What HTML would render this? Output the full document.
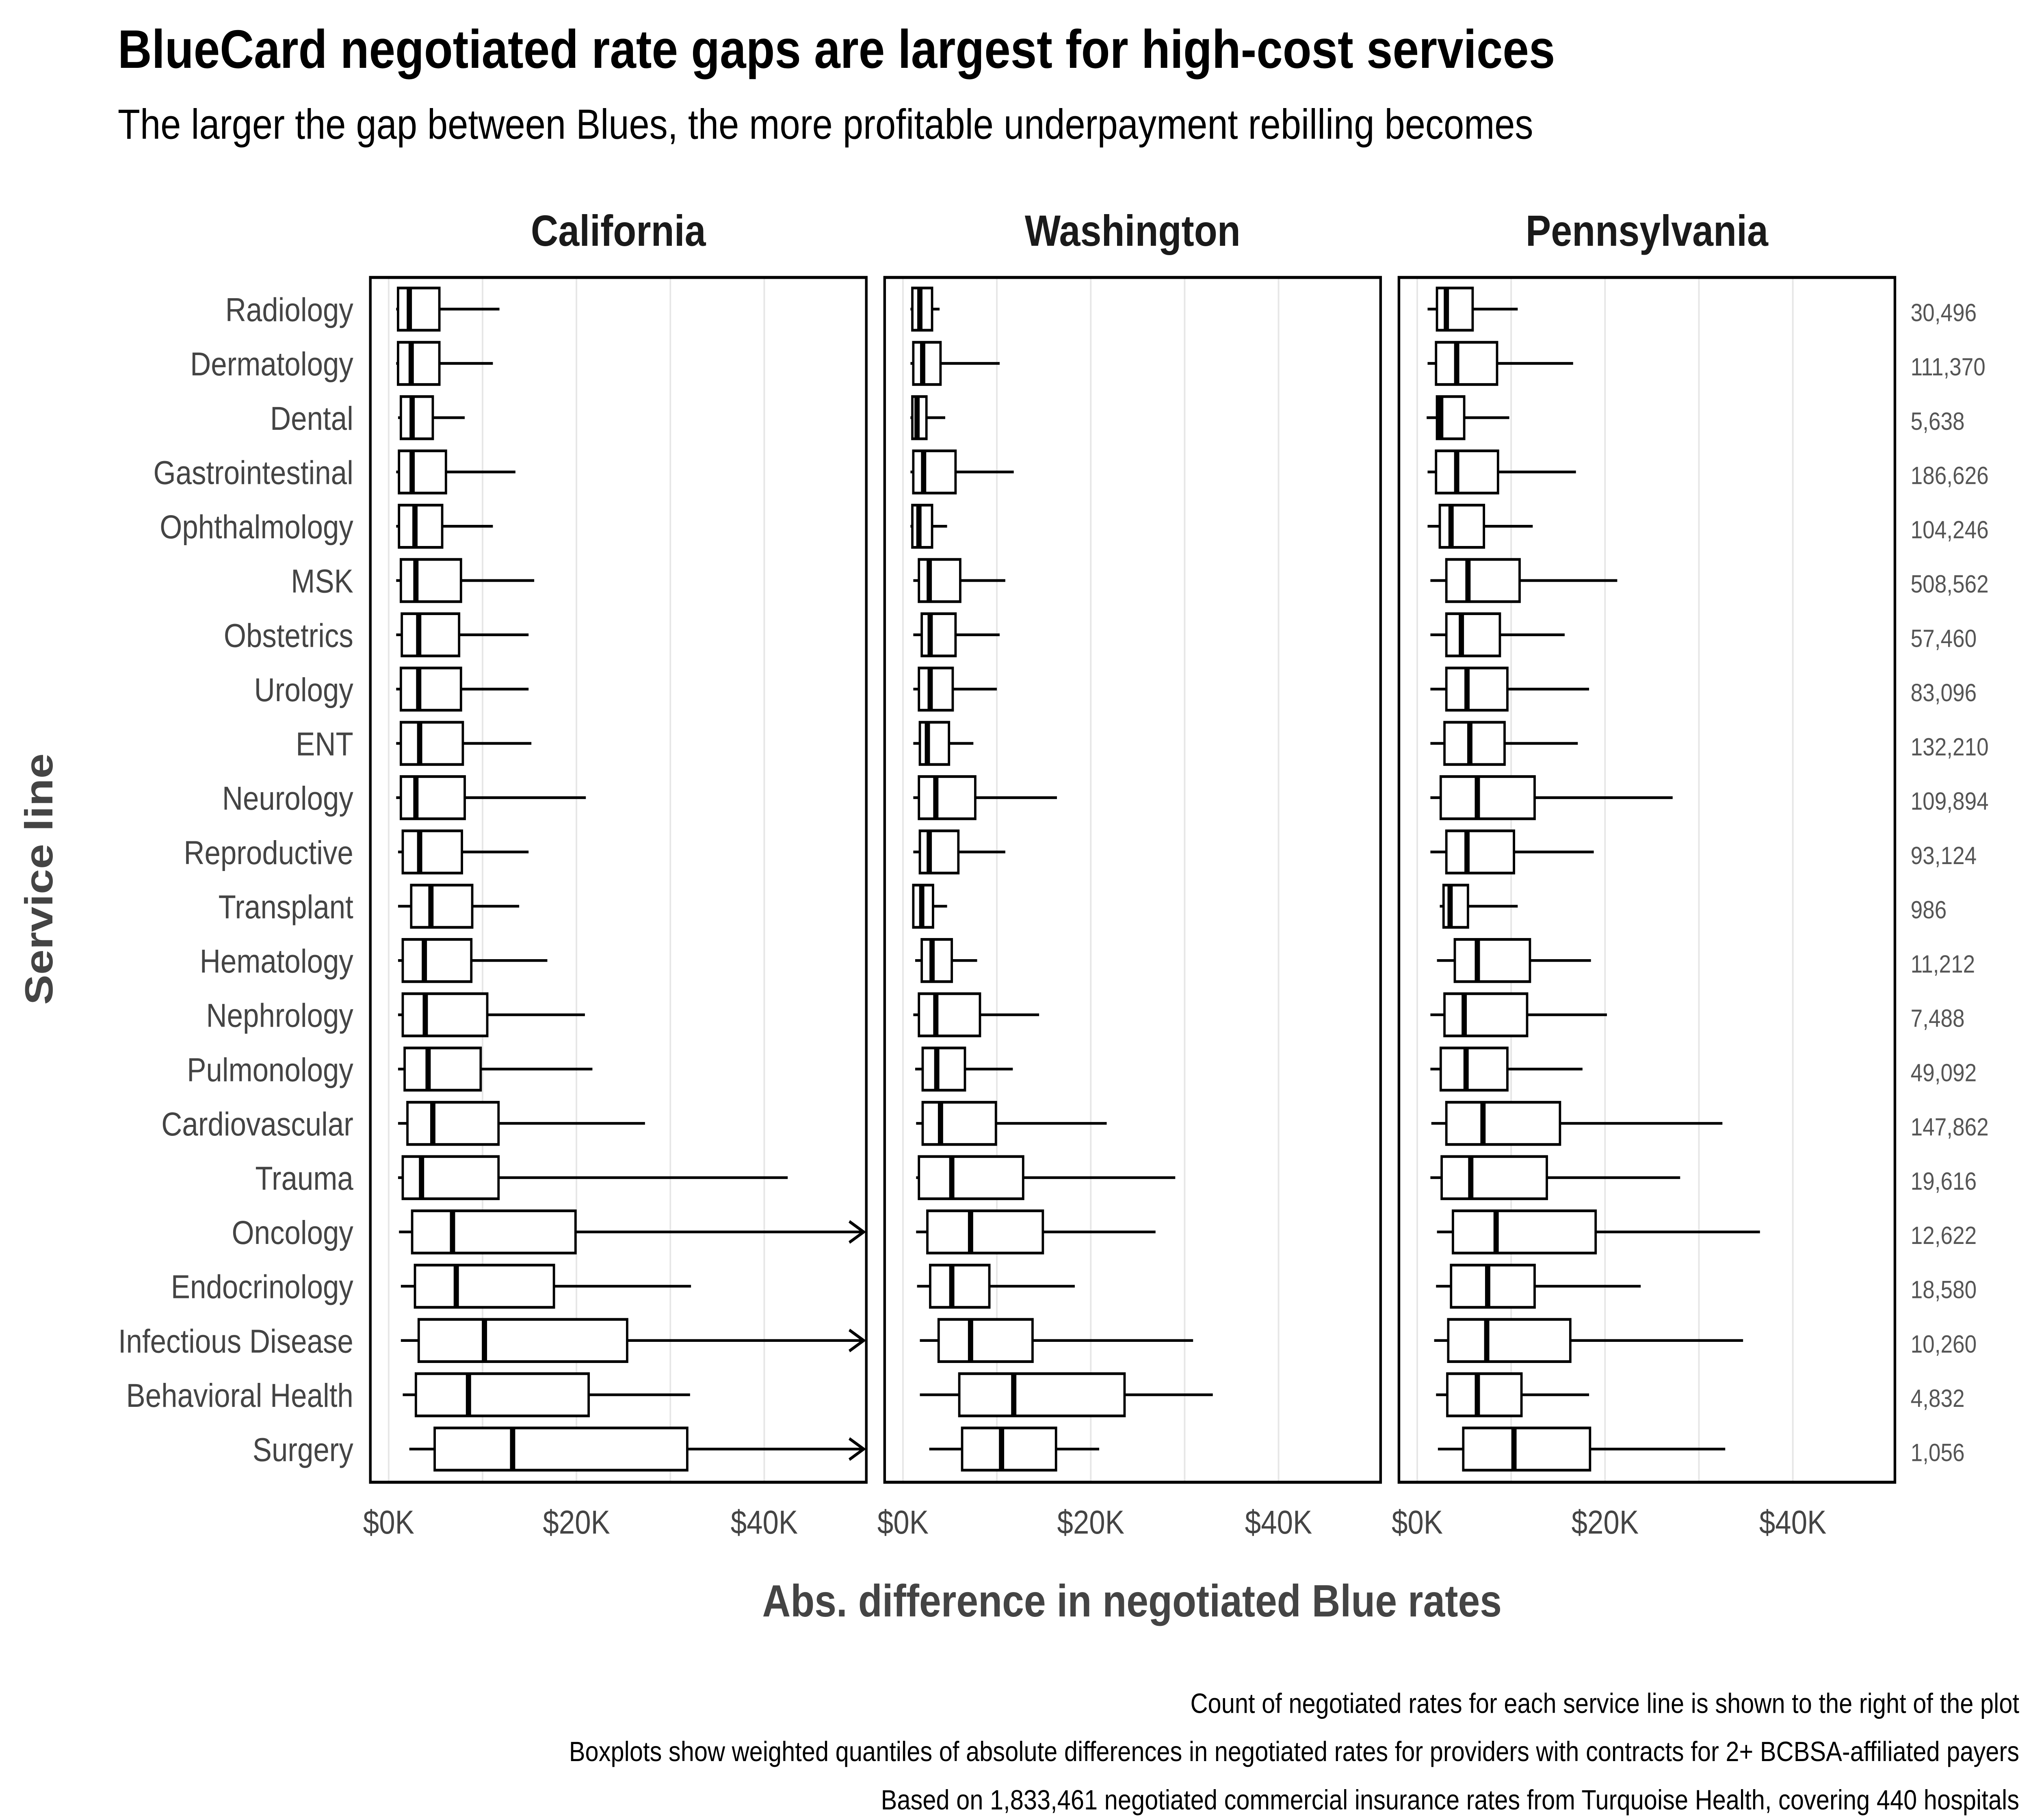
<!DOCTYPE html>
<html><head><meta charset="utf-8">
<style>
html,body{margin:0;padding:0;background:#fff;width:100%;height:100%;overflow:hidden}
svg{display:block;position:fixed;left:0;top:0;width:100vw;height:100vh}
text{font-family:"Liberation Sans",Arial,sans-serif}
</style></head>
<body>
<svg id="chart" viewBox="0 0 1552 1207" preserveAspectRatio="none" xmlns="http://www.w3.org/2000/svg">
<rect width="1552" height="1207" fill="#fff"/>
<text x="90" y="45" font-size="36" font-weight="bold" fill="#000">BlueCard negotiated rate gaps are largest for high-cost services</text>
<text x="90" y="92" font-size="28" fill="#000">The larger the gap between Blues, the more profitable underpayment rebilling becomes</text>
<text transform="translate(40,583) rotate(-90)" text-anchor="middle" font-size="30" font-weight="bold" fill="#444">Service line</text>
<text x="865" y="1072" text-anchor="middle" font-size="30" font-weight="bold" fill="#444">Abs. difference in negotiated Blue rates</text>
<text x="1543" y="1136" text-anchor="end" font-size="18.5" fill="#000">Count of negotiated rates for each service line is shown to the right of the plot</text>
<text x="1543" y="1168" text-anchor="end" font-size="18.5" fill="#000">Boxplots show weighted quantiles of absolute differences in negotiated rates for providers with contracts for 2+ BCBSA-affiliated payers</text>
<text x="1543" y="1200" text-anchor="end" font-size="18.5" fill="#000">Based on 1,833,461 negotiated commercial insurance rates from Turquoise Health, covering 440 hospitals</text>
<g id="plots"></g>
</svg>
<script>
const categories = ["Radiology","Dermatology","Dental","Gastrointestinal","Ophthalmology","MSK","Obstetrics","Urology","ENT","Neurology","Reproductive","Transplant","Hematology","Nephrology","Pulmonology","Cardiovascular","Trauma","Oncology","Endocrinology","Infectious Disease","Behavioral Health","Surgery"];
const counts = ["30,496","111,370","5,638","186,626","104,246","508,562","57,460","83,096","132,210","109,894","93,124","986","11,212","7,488","49,092","147,862","19,616","12,622","18,580","10,260","4,832","1,056"];
const panels = ["California","Washington","Pennsylvania"];
const tickValues = [0,20,40];
const tickLabels = ["$0K","$20K","$40K"];
const gridValues = [0,10,20,30,40];
// [whisker low, q1, median, q3, whisker high] in $K
const california = [
[0.8,1.0,2.2,5.4,11.8],[0.8,1.0,2.4,5.4,11.1],[1.0,1.3,2.5,4.7,8.1],[0.8,1.1,2.5,6.1,13.5],[0.8,1.1,2.8,5.7,11.1],
[0.8,1.3,2.9,7.7,15.5],[0.8,1.4,3.2,7.5,14.9],[0.8,1.3,3.2,7.7,14.9],[0.8,1.3,3.3,7.9,15.2],[0.8,1.3,2.9,8.1,21.0],
[1.0,1.5,3.3,7.8,14.9],[1.0,2.4,4.5,8.9,13.9],[1.0,1.5,3.8,8.8,16.9],[1.0,1.5,3.9,10.5,20.9],[1.0,1.7,4.2,9.8,21.7],
[1.0,2.0,4.7,11.7,27.3],[1.0,1.5,3.5,11.7,42.5],[1.1,2.5,6.8,19.9,60],[1.3,2.8,7.2,17.6,32.2],[1.3,3.2,10.2,25.4,60],
[1.5,2.9,8.5,21.3,32.1],[2.2,4.9,13.2,31.8,60]];
const washington = [
[0.8,1.0,1.8,3.1,3.9],[0.8,1.1,2.1,4.0,10.3],[0.8,1.0,1.5,2.5,4.5],[0.8,1.1,2.2,5.6,11.8],[0.8,1.0,1.7,3.1,4.7],
[1.1,1.7,2.8,6.1,10.9],[1.1,2.0,2.9,5.6,10.3],[1.1,1.7,2.9,5.3,10.0],[1.1,1.8,2.6,4.9,7.5],[1.1,1.7,3.5,7.7,16.4],
[1.1,1.8,2.8,5.9,10.9],[1.0,1.1,2.0,3.2,4.7],[1.3,2.0,3.1,5.2,7.9],[1.1,1.7,3.5,8.2,14.5],[1.3,2.1,3.6,6.6,11.7],
[1.4,2.1,4.0,9.9,21.7],[1.4,1.7,5.2,12.8,29.0],[1.4,2.6,7.2,14.9,26.9],[1.5,2.9,5.2,9.2,18.3],[1.8,3.8,7.2,13.8,30.9],
[1.8,6.0,11.8,23.6,33.0],[2.8,6.3,10.5,16.3,20.9]];
const pennsylvania = [
[1.1,2.1,3.1,5.9,10.7],[1.1,2.0,4.2,8.5,16.6],[1.0,2.1,2.5,5.0,9.8],[1.1,2.0,4.2,8.6,16.9],[1.1,2.4,3.6,7.1,12.3],
[1.4,3.1,5.4,10.9,21.3],[1.4,3.1,4.7,8.8,15.7],[1.4,3.1,5.3,9.6,18.3],[1.4,2.9,5.6,9.3,17.1],[1.4,2.5,6.4,12.5,27.2],
[1.4,3.1,5.3,10.3,18.8],[2.4,2.8,3.5,5.4,10.7],[2.1,4.0,6.4,12.0,18.5],[1.4,2.9,5.0,11.7,20.2],[1.4,2.5,5.2,9.6,17.6],
[1.5,3.1,7.0,15.2,32.5],[1.4,2.6,5.7,13.8,28.0],[2.1,3.8,8.4,19.0,36.5],[2.0,3.6,7.5,12.5,23.8],[1.8,3.3,7.4,16.3,34.7],
[2.0,3.2,6.4,11.1,18.3],[2.2,4.9,10.3,18.4,32.8]];
const panelData = [california, washington, pennsylvania];

const NS = "http://www.w3.org/2000/svg";
const plotRoot = document.getElementById("plots");
const panelLeft = [283, 676, 1069], panelW = 379, plotTop = 184, plotBottom = 983;
const kScale = 143.5/20, xOff = 14;
function yPos(i){ return 205 + i*36; }
function mk(tag, attrs, parent){ const e=document.createElementNS(NS,tag); for(const k in attrs) e.setAttribute(k,attrs[k]); (parent||plotRoot).appendChild(e); return e; }

categories.forEach((c,i)=>{
  const t = mk("text",{x:270,y:yPos(i)+8,"text-anchor":"end","font-size":22,fill:"#444"});
  t.textContent = c;
  
  
  const n = mk("text",{x:1460,y:yPos(i)+8,"font-size":16.5,fill:"#555"});
  n.textContent = counts[i];
  
  
});

panels.forEach((p,pi)=>{
  const L = panelLeft[pi];
  const xs = v => L + xOff + v*kScale;
  const g = mk("g",{});
  
  
  gridValues.forEach(v=>{
    const gl = mk("line",{x1:xs(v),x2:xs(v),y1:plotTop,y2:plotBottom,stroke:"#e6e6e6","stroke-width":1.2},g);
    
    
  });
  const pt = mk("text",{x:L+panelW/2,y:163,"text-anchor":"middle","font-size":29,"font-weight":"bold",fill:"#1a1a1a"},g);
  pt.textContent = p;
  
  
  tickValues.forEach((v,ti)=>{
    const tl = mk("text",{x:xs(v),y:1017,"text-anchor":"middle","font-size":22,fill:"#444"},g);
    tl.textContent = tickLabels[ti];
    
    
  });
  const right = L + panelW;
  panelData[pi].forEach((d,i)=>{
    const y = yPos(i);
    const bg = mk("g",{},g);
    
    
    mk("line",{x1:xs(d[0]),x2:xs(d[1]),y1:y,y2:y,stroke:"#000","stroke-width":1.8},bg);
    const hx = xs(d[4]);
    if(hx > right){
      mk("line",{x1:xs(d[3]),x2:right-2,y1:y,y2:y,stroke:"#000","stroke-width":1.8},bg);
      mk("polyline",{points:`${right-13},${y-7} ${right-2},${y} ${right-13},${y+7}`,fill:"none",stroke:"#000","stroke-width":2},bg);
    } else {
      mk("line",{x1:xs(d[3]),x2:hx,y1:y,y2:y,stroke:"#000","stroke-width":1.8},bg);
    }
    mk("rect",{x:xs(d[1]),y:y-14,width:xs(d[3])-xs(d[1]),height:28,fill:"#fff",stroke:"#000","stroke-width":1.8},bg);
    mk("line",{x1:xs(d[2]),x2:xs(d[2]),y1:y-14,y2:y+14,stroke:"#000","stroke-width":4},bg);
  });
  const fr = mk("rect",{x:L,y:plotTop,width:panelW,height:plotBottom-plotTop,fill:"none",stroke:"#000","stroke-width":2},g);
  
  
});
</script>
</body></html>
